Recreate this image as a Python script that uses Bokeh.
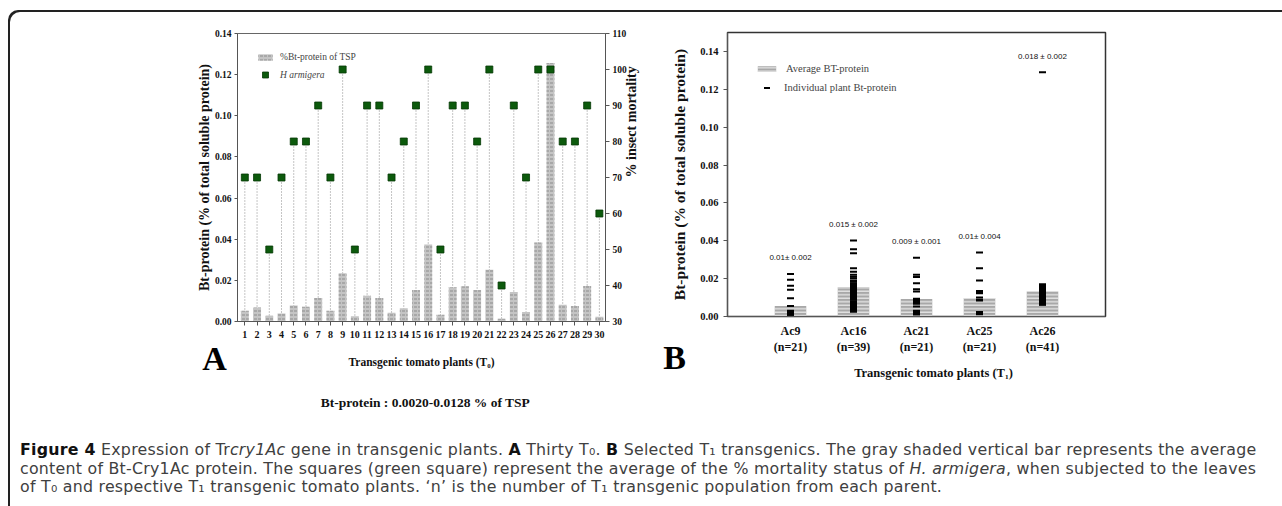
import math
from bokeh.plotting import figure
from bokeh.models import (Range1d, LinearAxis, FixedTicker, PrintfTickFormatter, Legend,
                          LegendItem, Label, Div)
from bokeh.layouts import row, column
from bokeh.embed import file_html
from bokeh.resources import INLINE
from bokeh.core.properties import value

SERIF = "Liberation Serif"

# ---------------- Panel A data (T0 plants) ----------------
plants_t0 = list(range(1, 31))
bt_protein_t0 = [0.0052, 0.0068, 0.0028, 0.0039, 0.0078, 0.0072, 0.0114, 0.0052, 0.0234, 0.0026,
                 0.0125, 0.0114, 0.0042, 0.0065, 0.0153, 0.0374, 0.0033, 0.0166, 0.0171, 0.0153,
                 0.0252, 0.0013, 0.0143, 0.0046, 0.0384, 0.1256, 0.0081, 0.0075, 0.0172, 0.0023]
mortality_t0 = [70, 70, 50, 70, 80, 80, 90, 70, 100, 50, 90, 90, 70, 80, 90, 100, 50, 90, 90, 80,
                100, 40, 90, 70, 100, 100, 80, 80, 90, 60]
y_ticks_a = [0.00, 0.02, 0.04, 0.06, 0.08, 0.10, 0.12, 0.14]
mort_ticks = [30, 40, 50, 60, 70, 80, 90, 100, 110]

# ---------------- Panel B data (T1 lines) ----------------
lines_t1 = ["Ac9", "Ac16", "Ac21", "Ac25", "Ac26"]
n_t1 = [21, 39, 21, 21, 41]
avg_t1 = [0.0056, 0.0155, 0.0093, 0.0098, 0.0132]
stat_labels = ["0.01\u00b1 0.002", "0.015 \u00b1 0.002", "0.009 \u00b1 0.001", "0.01\u00b1 0.004", "0.018 \u00b1 0.002"]
ind_ac9 = [0.0225, 0.0194, 0.0162, 0.0141, 0.0097, 0.0056, 0.0030, 0.0026, 0.0024, 0.0022, 0.0020,
           0.0018, 0.0017, 0.0016, 0.0015, 0.0014, 0.0013, 0.0012, 0.0011, 0.0010, 0.0009]
ind_ac16 = [0.0401, 0.0355, 0.0334, 0.0255, 0.0237, 0.0220, 0.0210, 0.0202, 0.0190, 0.0184, 0.0176,
            0.0170, 0.0166, 0.0162, 0.0158, 0.0154, 0.0150, 0.0146, 0.0141, 0.0137, 0.0133, 0.0127,
            0.0122, 0.0118, 0.0112, 0.0106, 0.0102, 0.0096, 0.0088, 0.0080, 0.0074, 0.0066, 0.0058,
            0.0050, 0.0043, 0.0039, 0.0034, 0.0030, 0.0025]
ind_ac21 = [0.0310, 0.0220, 0.0208, 0.0176, 0.0144, 0.0132, 0.0094, 0.0091, 0.0085, 0.0079, 0.0073,
            0.0067, 0.0053, 0.0030, 0.0024, 0.0021, 0.0019, 0.0017, 0.0015, 0.0013, 0.0011]
ind_ac25 = [0.0338, 0.0255, 0.0190, 0.0135, 0.0130, 0.0123, 0.0100, 0.0088, 0.0085, 0.0024, 0.0022,
            0.0021, 0.0020, 0.0019, 0.0018, 0.0017, 0.0016, 0.0015, 0.0014, 0.0013, 0.0012]
ind_ac26 = [0.1290, 0.0170, 0.0165, 0.0160, 0.0155, 0.0150, 0.0146, 0.0142, 0.0138, 0.0135, 0.0132,
            0.0129, 0.0126, 0.0123, 0.0120, 0.0117, 0.0114, 0.0111, 0.0108, 0.0105, 0.0102, 0.0100,
            0.0098, 0.0096, 0.0094, 0.0092, 0.0090, 0.0088, 0.0086, 0.0084, 0.0082, 0.0080, 0.0078,
            0.0076, 0.0074, 0.0072, 0.0070, 0.0068, 0.0066, 0.0064, 0.0062]
individual_t1 = [ind_ac9, ind_ac16, ind_ac21, ind_ac25, ind_ac26]
y_ticks_b = [0.00, 0.02, 0.04, 0.06, 0.08, 0.10, 0.12, 0.14]


def style_axis(ax, tick_size, title_size):
    ax.axis_line_color = "#555555"
    ax.major_tick_line_color = "#555555"
    ax.minor_tick_line_color = None
    ax.major_tick_in = 0
    ax.major_label_text_font = SERIF
    ax.major_label_text_font_style = "bold"
    ax.major_label_text_font_size = tick_size
    ax.major_label_text_color = "#111111"
    ax.axis_label_text_font = SERIF
    ax.axis_label_text_font_style = "bold"
    ax.axis_label_text_font_size = title_size
    ax.axis_label_text_color = "#111111"


def no_frame_align(p):
    if "frame_align" in p.properties():
        p.frame_align = False


# ================= Panel A =================
pA = figure(width=640, height=410, x_range=Range1d(0.4, 30.5), y_range=Range1d(0, 0.14),
            output_backend="svg", toolbar_location=None,
            min_border_left=227, min_border_right=45, min_border_top=21, min_border_bottom=101)
no_frame_align(pA)
pA.extra_y_ranges = {"mort": Range1d(30, 110)}
pA.grid.visible = False
pA.outline_line_color = "#666666"
pA.background_fill_color = None
pA.border_fill_color = None

pA.segment(x0=plants_t0, y0=[mort_ticks[0]] * len(plants_t0), x1=plants_t0, y1=mortality_t0,
           y_range_name="mort", line_color="#8a8a8a", line_width=1, line_dash="1 2")
barsA = pA.vbar(x=plants_t0, top=bt_protein_t0, width=0.65, bottom=0,
                fill_color="#c4c4c4", line_color=None,
                hatch_pattern="horizontal_dash", hatch_color="#8c8c8c", hatch_scale=4, hatch_weight=1)
sqA = pA.scatter(x=plants_t0, y=mortality_t0, marker="square", size=7, y_range_name="mort",
                 fill_color="#0c5a0c", line_color="#053805", line_width=0.8)

axA = pA.xaxis[0]
axA.ticker = FixedTicker(ticks=plants_t0)
axA.axis_label = "Transgenic tomato plants (T\u2080)"
style_axis(axA, "10px", "11.5px")
axA.major_tick_out = 4
axA.major_label_standoff = 5
axA.axis_label_standoff = 15

ayA = pA.yaxis[0]
ayA.ticker = FixedTicker(ticks=y_ticks_a)
ayA.formatter = PrintfTickFormatter(format="%.2f")
ayA.axis_label = "Bt-protein (% of total soluble protein)"
style_axis(ayA, "9.5px", "14px")
ayA.major_tick_out = 3
ayA.major_label_standoff = 3
ayA.axis_label_standoff = 0

ayR = LinearAxis(y_range_name="mort", ticker=FixedTicker(ticks=mort_ticks),
                 axis_label="% insect mortality")
style_axis(ayR, "9.5px", "14px")
ayR.major_tick_out = 4
ayR.major_label_standoff = 3
ayR.axis_label_standoff = 2
if "axis_label_orientation" in ayR.properties():
    ayR.axis_label_orientation = math.pi / 2
pA.add_layout(ayR, "right")

frame_h_a = 288
legA1 = Legend(items=[LegendItem(label="%Bt-protein of TSP", renderers=[barsA])],
               location=(19, frame_h_a - 21 - 8), glyph_width=18, glyph_height=8, label_height=8,
               padding=0, margin=0, spacing=0, border_line_color=None, background_fill_alpha=0,
               label_standoff=6, label_text_font=SERIF, label_text_font_size="9.5px")
legA2 = Legend(items=[LegendItem(label="H armigera", renderers=[sqA])],
               location=(19, frame_h_a - 34 - 15), glyph_width=18, glyph_height=15, label_height=15,
               padding=0, margin=0, spacing=0, border_line_color=None, background_fill_alpha=0,
               label_standoff=6, label_text_font=SERIF, label_text_font_size="9.5px",
               label_text_font_style="italic")
pA.add_layout(legA1)
pA.add_layout(legA2)

pA.add_layout(Label(x=-1.48, y=-0.018, text="A", text_font=SERIF, text_font_style="bold",
                    text_font_size="34px", text_align="center", text_baseline="middle",
                    text_color="#000000"), "left")
pA.add_layout(Label(x=15.77, y=-0.0393, text="Bt-protein : 0.0020-0.0128 % of TSP",
                    text_font=SERIF, text_font_style="bold", text_font_size="13.5px",
                    text_align="center", text_baseline="middle", text_color="#111111"), "above")

# ================= Panel B =================
pos_t1 = [1, 2, 3, 4, 5]
pB = figure(width=622, height=410, x_range=Range1d(0, 6), y_range=Range1d(0, 0.15),
            output_backend="svg", toolbar_location=None,
            min_border_left=77, min_border_right=167, min_border_top=20, min_border_bottom=106)
no_frame_align(pB)
pB.grid.visible = False
pB.outline_line_color = "#333333"
pB.outline_line_width = 1.5
pB.background_fill_color = None
pB.border_fill_color = None

barsB = pB.vbar(x=pos_t1, top=avg_t1, width=0.5, bottom=0, fill_color="#a8a8a8", line_color=None,
                hatch_pattern="horizontal_line", hatch_color="#ececec", hatch_scale=3.5,
                hatch_weight=1.2)
xs, ys = [], []
for pos, vals in zip(pos_t1, individual_t1):
    xs += [pos] * len(vals)
    ys += vals
dashB = pB.scatter(x=xs, y=ys, marker="dash", size=7, line_color="#000000", line_width=2)

px_per_unit_b = 0.15 / 284
lab_y = [max(v) + 16 * px_per_unit_b for v in individual_t1]
pB.text(x=pos_t1, y=lab_y, text=stat_labels, text_font=value("Liberation Sans"),
        text_font_size="8px", text_align="center", text_baseline="middle", text_color="#111111")

axB = pB.xaxis[0]
axB.ticker = FixedTicker(ticks=pos_t1)
axB.major_label_overrides = {p: f"{c}\n(n={n})" for p, c, n in zip(pos_t1, lines_t1, n_t1)}
style_axis(axB, "12px", "12px")
axB.major_tick_line_color = None
axB.major_tick_out = 0
axB.major_label_standoff = 7

ayB = pB.yaxis[0]
ayB.ticker = FixedTicker(ticks=y_ticks_b)
ayB.formatter = PrintfTickFormatter(format="%.2f")
ayB.axis_label = "Bt-protein (% of total soluble protein)"
style_axis(ayB, "10.5px", "15.5px")
ayB.major_tick_out = 4
ayB.major_label_standoff = 5
ayB.axis_label_standoff = 9

frame_h_b = 284
legB1 = Legend(items=[LegendItem(label="Average BT-protein", renderers=[barsB])],
               location=(28, frame_h_b - 35 - 7), glyph_width=23, glyph_height=7, label_height=7,
               padding=0, margin=0, spacing=0, border_line_color=None, background_fill_alpha=0,
               label_standoff=8, label_text_font=SERIF, label_text_font_size="10.5px")
legB2 = Legend(items=[LegendItem(label="Individual plant Bt-protein", renderers=[dashB])],
               location=(28, frame_h_b - 48 - 15), glyph_width=23, glyph_height=15, label_height=15,
               padding=0, margin=0, spacing=0, border_line_color=None, background_fill_alpha=0,
               label_standoff=6, label_text_font=SERIF, label_text_font_size="10.5px")
pB.add_layout(legB1)
pB.add_layout(legB2)

pB.add_layout(Label(x=-0.84, y=-0.0216, text="B", text_font=SERIF, text_font_style="bold",
                    text_font_size="34px", text_align="center", text_baseline="middle",
                    text_color="#000000"), "below")
pB.add_layout(Label(x=3.27, y=-0.0299, text="Transgenic tomato plants (T\u2081)",
                    text_font=SERIF, text_font_style="bold", text_font_size="12.5px",
                    text_align="center", text_baseline="middle", text_color="#111111"), "below")

# ================= Caption =================
caption_html = (
    '<div style="font-family:\'DejaVu Sans\',sans-serif;font-size:15.8px;line-height:18.5px;'
    'letter-spacing:0.25px;color:#404040;white-space:nowrap;padding:14px 0 0 5px;">'
    '<b style="color:#111">Figure 4</b> Expression of Tr<i>cry1Ac</i> gene in transgenic plants. '
    '<b style="color:#111">A</b> Thirty T\u2080. '
    '<b style="color:#111">B</b> Selected T\u2081 transgenics. '
    'The gray shaded vertical bar represents the average<br>'
    'content of Bt-Cry1Ac protein. The squares (green square) represent the average of the % '
    'mortality status of <i>H. armigera</i>, when subjected to the leaves<br>'
    'of T\u2080 and respective T\u2081 '
    'transgenic tomato plants. \u2018n\u2019 is the number of T\u2081 '
    'transgenic population from each parent.</div>'
)
cap = Div(text=caption_html, width=1272, height=80)

layout = column(row(pA, pB), cap, margin=(12, 0, 0, 10),
                styles={"box-shadow": "-2px -2px 0 0 #222", "border-top-left-radius": "10px"})

open("out.html", "w").write(file_html(layout, INLINE))
